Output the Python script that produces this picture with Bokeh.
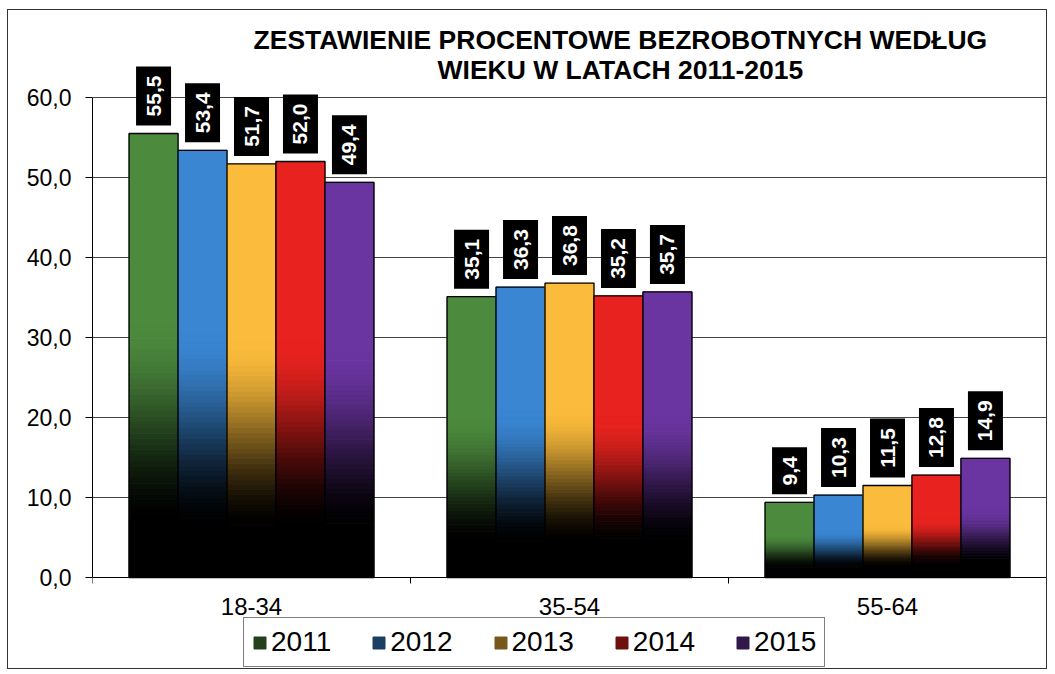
import math
from bokeh.plotting import figure
from bokeh.models import (ColumnDataSource, FixedTicker, Range1d, Legend, LegendItem)
from bokeh.core.properties import value
from bokeh.embed import file_html
from bokeh.resources import INLINE

# ---------------- data ----------------
categories = ["18-34", "35-54", "55-64"]
years = ["2011", "2012", "2013", "2014", "2015"]
v2011 = [55.5, 35.1, 9.4]
v2012 = [53.4, 36.3, 10.3]
v2013 = [51.7, 36.8, 11.5]
v2014 = [52.0, 35.2, 12.8]
v2015 = [49.4, 35.7, 14.9]
series = [v2011, v2012, v2013, v2014, v2015]
y_ticks = [0, 10, 20, 30, 40, 50, 60]
y_tick_labels = ["0,0", "10,0", "20,0", "30,0", "40,0", "50,0", "60,0"]
title_lines = ["ZESTAWIENIE PROCENTOWE BEZROBOTNYCH WEDŁUG",
               "WIEKU W LATACH 2011-2015"]

# ---------------- style ----------------
colors = ["#4c8a3e", "#3a86d2", "#fbbb3c", "#e8231f", "#6a35a0"]
FONT = "Liberation Sans"
BAR_W = 0.154
N_SLICES = 80
LOW, HIGH = 0.11, 0.57
PX_PER_UNIT = 8.0          # frame: 651 px for 81.375 units
Y0, Y1 = -11.375, 70.0


def hex_to_rgb(h):
    h = h.lstrip("#")
    return tuple(int(h[i:i + 2], 16) for i in (0, 2, 4))


def shade(h, t):
    r, g, b = hex_to_rgb(h)
    return "#%02x%02x%02x" % (int(r * t), int(g * t), int(b * t))


p = figure(width=1040, height=660, output_backend="svg", toolbar_location=None,
           x_range=Range1d(0, 3), y_range=Range1d(Y0, Y1),
           min_border_left=84, min_border_right=2, min_border_top=7,
           min_border_bottom=2)
p.styles = {"border": "1px solid #333333", "margin-left": "7px",
            "margin-top": "9px"}
p.outline_line_color = None
p.background_fill_color = "white"
p.border_fill_color = "white"

legend_items = []
for j, vals in enumerate(series):
    sl = dict(left=[], right=[], bottom=[], top=[], color=[])
    ol = dict(left=[], right=[], bottom=[], top=[])
    lab = dict(x=[], y=[], text=[], h=[])
    legend_index = None
    for i, v in enumerate(vals):
        xc = i + 0.5 + (j - 2) * BAR_W
        l, r = xc - BAR_W / 2, xc + BAR_W / 2
        prev = None
        for k in range(N_SLICES):
            f = (k + 0.5) / N_SLICES
            t = (f - LOW) / (HIGH - LOW)
            t = max(0.0, min(1.0, t))
            t = t * t * (3 - 2 * t)
            c = shade(colors[j], t)
            b, tp = v * k / N_SLICES, v * (k + 1) / N_SLICES
            if c == prev:
                sl["top"][-1] = tp          # merge equal-colour slices
                continue
            sl["left"].append(l)
            sl["right"].append(r)
            sl["bottom"].append(b)
            sl["top"].append(tp)
            sl["color"].append(c)
            prev = c
            if i == 0 and legend_index is None and t >= 0.45:
                legend_index = len(sl["color"]) - 1
        ol["left"].append(l)
        ol["right"].append(r)
        ol["bottom"].append(0)
        ol["top"].append(v)
        txt = ("%.1f" % v).replace(".", ",")
        h = 11 + 12 * len(txt)              # label box length in px
        lab["x"].append(xc)
        lab["y"].append(v + (8 + h / 2) / PX_PER_UNIT)
        lab["text"].append(txt)
        lab["h"].append(h)

    rs = p.quad(left="left", right="right", bottom="bottom", top="top",
                fill_color="color", line_color="color", line_width=1.0,
                source=ColumnDataSource(sl))
    p.quad(left="left", right="right", bottom="bottom", top="top",
           fill_color=None, line_color="black", line_width=1.3,
           source=ColumnDataSource(ol))
    src = ColumnDataSource(lab)
    p.rect(x="x", y="y", width=35, height="h", width_units="screen",
           height_units="screen", fill_color="black", line_color=None,
           source=src)
    p.text(x="x", y="y", text="text", source=src,
           angle=math.pi / 2, text_align="center", text_baseline="middle",
           text_color="white", text_font=value(FONT), text_font_size="21px",
           text_font_style="bold")
    legend_items.append(LegendItem(label=years[j], renderers=[rs],
                                   index=legend_index))

# title as text inside frame
p.text(x=[1.66, 1.66], y=[67.15, 63.45], text=title_lines,
       text_align="center", text_baseline="alphabetic",
       text_color="black", text_font=value(FONT), text_font_size="26.5px",
       text_font_style="bold")

# axes
p.yaxis.ticker = FixedTicker(ticks=y_ticks)
p.yaxis.major_label_overrides = {t: s for t, s in zip(y_ticks, y_tick_labels)}
p.yaxis.bounds = (0, 60)
p.yaxis.major_tick_out = 7
p.yaxis.major_tick_in = 0
p.yaxis.minor_tick_line_color = None
p.yaxis.major_label_standoff = 14
p.yaxis.major_label_text_font = FONT
p.yaxis.major_label_text_font_size = "23px"
p.yaxis.major_label_text_color = "black"
p.yaxis.axis_line_color = "black"

p.xaxis.fixed_location = 0
p.xaxis.ticker = FixedTicker(ticks=[0.5, 1.5, 2.5], minor_ticks=[0, 1, 2, 3])
p.xaxis.major_label_overrides = {i + 0.5: c for i, c in enumerate(categories)}
p.xaxis.major_tick_out = 0
p.xaxis.major_tick_in = 0
p.xaxis.minor_tick_out = 6
p.xaxis.minor_tick_in = 0
p.xaxis.minor_tick_line_color = "black"
p.xaxis.major_label_standoff = 14
p.xaxis.major_label_text_font = FONT
p.xaxis.major_label_text_font_size = "24px"
p.xaxis.major_label_text_color = "black"
p.xaxis.axis_line_color = "black"

p.xgrid.grid_line_color = None
p.ygrid.ticker = FixedTicker(ticks=[10, 20, 30, 40, 50, 60])
p.ygrid.grid_line_color = "#444444"
p.ygrid.grid_line_width = 1

# legend at the bottom of the frame
legend = Legend(items=legend_items, orientation="horizontal", location=(151, 1),
                glyph_width=15, glyph_height=15, label_standoff=4,
                spacing=40, padding=8, margin=0,
                label_text_font=FONT, label_text_font_size="28px",
                label_text_color="black", label_height=24,
                border_line_color="black", border_line_width=1,
                background_fill_color="white", background_fill_alpha=1)
p.add_layout(legend, "center")

open("out.html", "w").write(file_html(p, INLINE))
